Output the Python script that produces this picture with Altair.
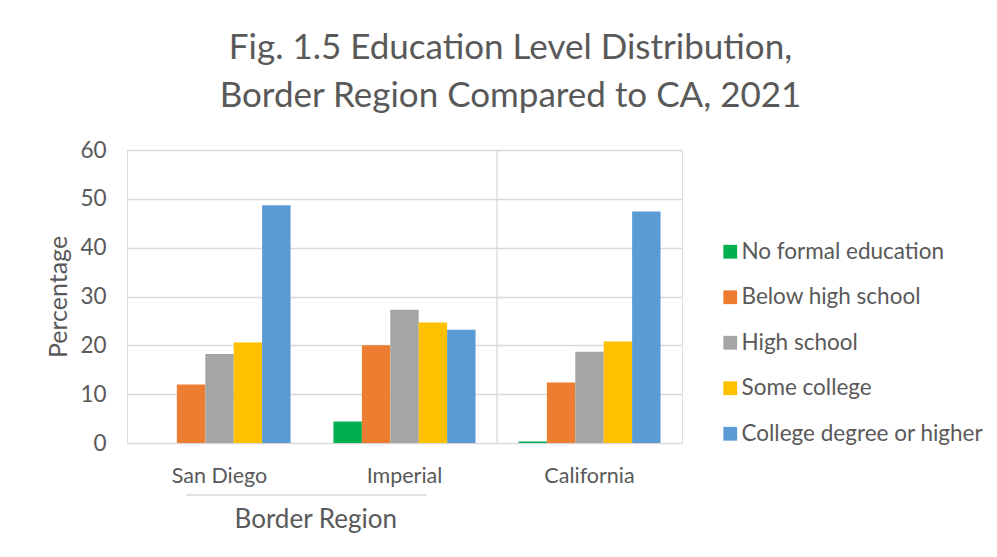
import altair as alt
import pandas as pd

regions = ["San Diego", "Imperial", "California"]
categories = ["No formal education", "Below high school", "High school",
              "Some college", "College degree or higher"]
colors = ["#00B050", "#ED7D31", "#A5A5A5", "#FFC000", "#5B9BD5"]

no_formal = [0.0, 4.4, 0.3]
below_hs = [12.0, 20.0, 12.4]
high_school = [18.2, 27.3, 18.7]
some_college = [20.6, 24.7, 20.8]
college_plus = [48.7, 23.2, 47.4]

series = [no_formal, below_hs, high_school, some_college, college_plus]
y_ticks = [0, 10, 20, 30, 40, 50, 60]

group_name = "Border Region"
group_members = ["San Diego", "Imperial"]

rows = []
for cat, vals in zip(categories, series):
    for reg, v in zip(regions, vals):
        rows.append({"region": reg, "category": cat, "value": v})
df = pd.DataFrame(rows)

W, H = 555, 293
FONT = "Lato"
TXT = "#595959"
GRID = "#D9D9D9"

xs_q = alt.Scale(domain=[0, len(regions)])

bars = alt.Chart(df).mark_bar().encode(
    x=alt.X("region:N", sort=regions,
            scale=alt.Scale(paddingInner=0.232, paddingOuter=0.116),
            axis=alt.Axis(title=None, labelAngle=0, labelFontSize=21.5,
                          labelColor=TXT, labelFont=FONT, ticks=False,
                          domain=False, labelPadding=22)),
    xOffset=alt.XOffset("category:N", sort=categories),
    y=alt.Y("value:Q", scale=alt.Scale(domain=[0, 60], nice=False),
            axis=alt.Axis(values=y_ticks, title="Percentage", grid=True,
                          gridColor=GRID, gridWidth=1.3, domain=False, ticks=False,
                          labelPadding=21, labelFontSize=22.5, labelColor=TXT,
                          labelFont=FONT, titleFont=FONT, titleFontSize=25,
                          titleColor=TXT, titleFontWeight="normal",
                          titleX=-69, titleY=H / 2, titleBaseline="middle",
                          titleAngle=-90)),
    color=alt.Color("category:N", sort=categories,
                    scale=alt.Scale(domain=categories, range=colors),
                    legend=alt.Legend(title=None, orient="none", legendX=592,
                                      legendY=90.5, symbolType="square",
                                      symbolSize=190, symbolStrokeWidth=0,
                                      labelFontSize=22.5, labelFont=FONT,
                                      labelColor=TXT, rowPadding=22.5,
                                      labelOffset=0, padding=0, labelLimit=0)),
)

sep_df = pd.DataFrame({"pos": [regions.index("California")]})
sep = alt.Chart(sep_df).mark_rule(color=GRID, strokeWidth=1.3).encode(
    x=alt.X("pos:Q", scale=xs_q, axis=None),
    y=alt.value(0), y2=alt.value(H),
)

i0 = regions.index(group_members[0])
i1 = regions.index(group_members[-1])
br_df = pd.DataFrame({"start": [i0 + 0.32], "end": [i1 + 0.62],
                      "mid": [(i0 + i1 + 1) / 2 + 0.02], "label": [group_name]})
bracket = alt.Chart(br_df).mark_rule(color=GRID, strokeWidth=1.5).encode(
    x=alt.X("start:Q", scale=xs_q, axis=None), x2="end:Q",
    y=alt.value(H + 52),
)
glabel = alt.Chart(br_df).mark_text(font=FONT, fontSize=26, color=TXT,
                                    baseline="middle").encode(
    x=alt.X("mid:Q", scale=xs_q, axis=None),
    y=alt.value(H + 77),
    text="label:N",
)

chart = alt.layer(bars, sep, bracket, glabel).resolve_scale(
    x="independent"
).properties(
    width=W, height=H,
    autosize=alt.AutoSizeParams(type="none"),
    padding={"left": 119, "top": 142, "right": 305, "bottom": 100},
    title=alt.TitleParams(
        text=["Fig. 1.5 Education Level Distribution,",
              "Border Region Compared to CA, 2021"],
        font=FONT, fontSize=35, fontWeight="normal", color=TXT,
        anchor="middle", frame="group", dx=106, offset=25, lineHeight=48,
    ),
).configure_view(strokeWidth=0).configure(background="white")

chart.save("out.html", embed_options={"renderer": "svg", "actions": False})
